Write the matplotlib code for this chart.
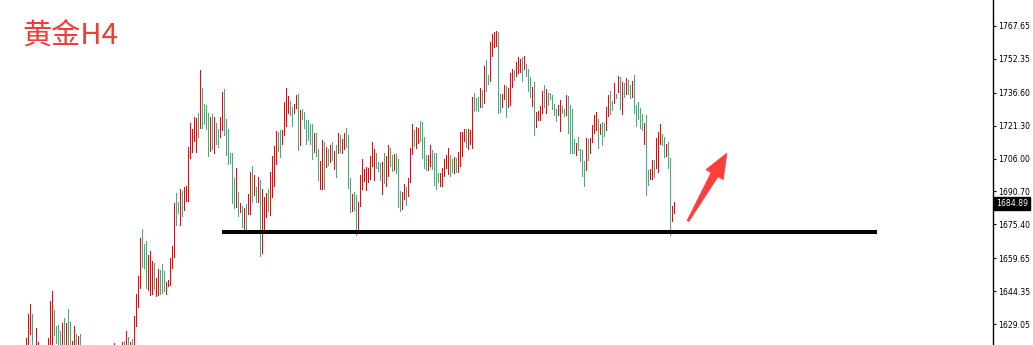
import matplotlib
matplotlib.use('Agg')
import matplotlib.pyplot as plt
from matplotlib.patches import Polygon
import matplotlib.transforms as mtransforms
import numpy as np

# ---------------- data (H4 bars, high / low / direction) ----------------
highs = [
    1622.5, 1633.7, 1638.3, 1633.7, 1618.5, 1627.2, 1620.7, 1618.0, 1617.0, 1618.0,
    1619.0, 1622.5, 1639.7, 1644.4, 1635.6, 1628.1, 1628.6, 1625.8, 1629.5, 1631.8,
    1629.5, 1636.0, 1630.0, 1621.1, 1628.1, 1624.4, 1623.5, 1624.4, 1618.0, 1617.0,
    1615.0, 1613.0, 1614.0, 1612.0, 1610.0, 1611.0, 1612.0, 1610.0, 1611.0, 1613.0,
    1614.0, 1615.0, 1616.0, 1617.0, 1620.2, 1618.0, 1617.5, 1618.5, 1620.7, 1621.1,
    1625.8, 1623.0, 1620.7, 1622.1, 1632.8, 1643.0, 1651.4, 1669.0, 1673.2, 1666.2,
    1667.6, 1661.1, 1663.0, 1658.3, 1657.4, 1650.4, 1654.6, 1654.2, 1656.9, 1653.7,
    1648.6, 1649.5, 1659.7, 1665.3, 1685.3, 1690.0, 1685.8, 1691.8, 1690.9, 1692.7,
    1693.2, 1711.3, 1722.5, 1719.7, 1725.3, 1724.8, 1727.2, 1747.2, 1738.8, 1731.3,
    1730.9, 1727.2, 1725.3, 1726.7, 1725.3, 1722.5, 1719.7, 1725.3, 1736.9, 1738.3,
    1724.4, 1719.7, 1708.6, 1708.6, 1696.9, 1701.6, 1690.4, 1685.3, 1683.9, 1683.0,
    1684.8, 1689.5, 1699.7, 1702.5, 1698.3, 1692.7, 1697.4, 1696.0, 1691.8, 1688.1,
    1690.0, 1691.8, 1699.7, 1707.2, 1711.8, 1718.8, 1718.3, 1719.3, 1719.3, 1732.3,
    1738.8, 1735.1, 1732.7, 1729.9, 1731.3, 1735.5, 1736.0, 1728.6, 1729.0, 1727.6,
    1723.9, 1723.9, 1722.0, 1722.0, 1717.9, 1717.9, 1710.4, 1704.8, 1714.6, 1713.7,
    1711.3, 1710.4, 1712.3, 1713.7, 1709.5, 1712.3, 1717.9, 1716.9, 1715.1, 1717.9,
    1720.2, 1716.9, 1696.9, 1689.5, 1690.4, 1689.0, 1685.8, 1698.3, 1705.8, 1701.1,
    1702.0, 1701.6, 1707.2, 1713.7, 1710.4, 1708.6, 1704.4, 1703.9, 1704.4, 1708.6,
    1707.2, 1712.3, 1710.9, 1707.6, 1708.1, 1708.1, 1705.8, 1690.9, 1690.4, 1694.1,
    1692.7, 1696.9, 1710.9, 1722.0, 1719.3, 1720.6, 1720.2, 1723.4, 1723.0, 1716.0,
    1707.6, 1707.6, 1712.3, 1710.0, 1708.6, 1708.6, 1699.3, 1699.3, 1701.6, 1705.8,
    1707.6, 1710.9, 1707.6, 1705.8, 1706.7, 1706.2, 1709.0, 1718.3, 1718.3, 1719.7,
    1719.7, 1719.7, 1719.3, 1734.6, 1736.5, 1734.1, 1734.6, 1738.8, 1737.9, 1749.0,
    1751.8, 1744.8, 1760.2, 1763.9, 1764.8, 1765.3, 1764.8, 1736.0, 1736.0, 1740.2,
    1739.7, 1738.8, 1745.8, 1747.6, 1747.2, 1750.9, 1753.2, 1752.3, 1753.2, 1753.7,
    1749.9, 1747.6, 1743.9, 1739.2, 1741.6, 1727.6, 1728.1, 1730.4, 1737.4, 1740.2,
    1738.3, 1736.5, 1736.5, 1735.5, 1731.3, 1729.0, 1730.9, 1733.2, 1730.4, 1729.0,
    1735.5, 1735.1, 1730.9, 1729.0, 1715.1, 1713.2, 1716.0, 1710.4, 1710.0, 1704.8,
    1715.5, 1715.1, 1715.5, 1721.6, 1726.2, 1727.6, 1724.4, 1722.0, 1723.0, 1722.5,
    1729.9, 1735.5, 1737.4, 1732.7, 1741.1, 1736.0, 1744.4, 1743.9, 1741.6, 1741.1,
    1743.4, 1742.5, 1740.2, 1742.0, 1744.8, 1730.9, 1732.3, 1729.5, 1726.7, 1722.5,
    1726.2, 1700.7, 1701.1, 1705.3, 1705.3, 1715.5, 1718.3, 1722.0, 1717.4, 1716.0,
    1712.7, 1713.7, 1706.2, 1683.9, 1685.6,
]

lows = [
    1615.0, 1617.0, 1624.4, 1618.0, 1614.0, 1617.0, 1616.0, 1612.0, 1611.0, 1613.0,
    1614.0, 1615.0, 1617.0, 1618.0, 1623.9, 1620.2, 1617.0, 1617.0, 1618.0, 1617.0,
    1617.0, 1618.0, 1616.0, 1615.0, 1616.0, 1617.0, 1616.0, 1617.0, 1610.0, 1608.0,
    1606.0, 1604.0, 1606.0, 1603.0, 1601.0, 1602.0, 1604.0, 1602.0, 1603.0, 1605.0,
    1607.0, 1608.0, 1609.0, 1610.0, 1612.0, 1610.0, 1610.0, 1611.0, 1613.0, 1614.0,
    1615.0, 1616.0, 1615.0, 1616.0, 1618.5, 1628.1, 1636.9, 1645.8, 1655.5, 1655.1,
    1645.8, 1644.9, 1642.5, 1643.0, 1645.3, 1642.1, 1642.5, 1643.0, 1643.5, 1644.4,
    1643.0, 1646.7, 1647.2, 1655.1, 1660.2, 1675.1, 1680.7, 1675.1, 1679.3, 1682.1,
    1686.2, 1686.2, 1706.2, 1709.0, 1714.1, 1709.0, 1716.0, 1720.2, 1720.2, 1722.0,
    1719.7, 1707.2, 1709.5, 1710.4, 1708.6, 1712.7, 1711.3, 1716.0, 1719.3, 1716.9,
    1707.6, 1703.4, 1703.9, 1685.3, 1683.0, 1683.4, 1679.3, 1681.1, 1674.1, 1672.3,
    1672.3, 1680.2, 1680.2, 1685.8, 1689.0, 1685.8, 1685.8, 1660.7, 1662.1, 1672.8,
    1678.8, 1681.6, 1679.7, 1688.1, 1693.2, 1703.4, 1709.5, 1706.7, 1712.7, 1716.9,
    1721.1, 1727.2, 1726.2, 1721.1, 1727.2, 1729.5, 1710.0, 1712.3, 1724.4, 1720.2,
    1712.7, 1714.6, 1712.7, 1705.8, 1709.0, 1707.2, 1696.0, 1691.8, 1691.8, 1691.8,
    1702.0, 1703.0, 1704.4, 1705.3, 1701.1, 1697.4, 1708.6, 1709.0, 1708.6, 1710.4,
    1711.3, 1692.3, 1681.1, 1681.6, 1682.1, 1670.4, 1672.8, 1683.9, 1691.8, 1695.5,
    1691.4, 1695.1, 1696.5, 1702.5, 1696.0, 1701.6, 1700.2, 1696.0, 1689.5, 1694.6,
    1693.2, 1697.9, 1702.5, 1700.2, 1700.7, 1699.3, 1683.4, 1681.6, 1682.5, 1687.2,
    1684.4, 1688.6, 1695.1, 1708.1, 1711.8, 1710.9, 1713.2, 1714.1, 1706.2, 1701.6,
    1700.7, 1700.7, 1702.5, 1701.1, 1693.7, 1691.8, 1695.1, 1693.2, 1693.2, 1697.9,
    1701.6, 1698.8, 1697.9, 1699.7, 1699.3, 1699.7, 1699.7, 1702.5, 1707.2, 1714.1,
    1711.3, 1710.4, 1712.7, 1710.9, 1728.1, 1728.6, 1728.1, 1729.9, 1729.9, 1731.8,
    1737.4, 1740.6, 1742.0, 1753.7, 1757.8, 1758.3, 1727.2, 1727.6, 1729.9, 1733.7,
    1725.3, 1729.9, 1730.9, 1739.2, 1742.5, 1744.4, 1745.8, 1746.2, 1742.0, 1747.6,
    1744.4, 1737.4, 1734.6, 1730.4, 1716.9, 1720.6, 1723.9, 1723.9, 1727.2, 1729.9,
    1727.2, 1730.9, 1733.7, 1729.0, 1726.2, 1723.4, 1726.2, 1718.8, 1727.2, 1725.8,
    1726.2, 1717.9, 1708.6, 1708.6, 1708.6, 1707.6, 1710.0, 1704.8, 1697.9, 1693.2,
    1700.7, 1705.3, 1708.6, 1713.7, 1717.9, 1719.3, 1710.9, 1717.4, 1712.3, 1716.5,
    1719.3, 1725.8, 1726.7, 1728.6, 1731.8, 1734.1, 1736.9, 1729.0, 1726.7, 1734.6,
    1736.0, 1736.0, 1734.1, 1734.6, 1727.2, 1721.1, 1724.4, 1720.2, 1719.3, 1712.7,
    1689.0, 1693.7, 1696.5, 1696.5, 1697.4, 1701.6, 1699.7, 1712.7, 1712.3, 1706.7,
    1707.2, 1701.6, 1670.4, 1676.9, 1680.7,
]

# R = bullish (red), G = bearish (green)
directions = (
    "RRRGGRRGGR" "RRRRGGGGRG" "RGGRRGRGGG" "GRRGGRRGRR" "RGRRRGRRRG"
    "RGRGRRRRGG" "GRRRGRRGGG" "RRRRRGGRGR" "RRRRRRGRGG" "GGRGRGGRRG"
    "GGGGGRGRGR" "GRRGRGRGRR" "RGRRRRGGRR" "RRGGRRGRGG" "GGGGRGGRRG"
    "RGRGRGRGRR" "GGGRGGRRRR" "RRRRRGGGRG" "RRGGRGGGRR" "GRRRGRRGGG"
    "GRRGGGGRRR" "RRGGRGRRRR" "GRRRGGGRGR" "GGRRRRGGRR" "GRRRGRRRGR"
    "GGGRGRRRRG" "RGGGGGRRGG" "RGGGGRGGGG" "RGRRRRGRGG" "RRGGRGRGRG"
    "RGGRGGGGGR" "GGRRGRRRGG" "RGGRR"
)

tick_values = [1767.65, 1752.35, 1736.60, 1721.30, 1706.00,
               1690.70, 1675.40, 1659.65, 1644.35, 1629.05]
tick_labels = ["1767.65", "1752.35", "1736.60", "1721.30", "1706.00",
               "1690.70", "1675.40", "1659.65", "1644.35", "1629.05"]

last_price = 1684.89
support_price = 1671.8
support_start_bar = 98
support_end_bar = 425.5

title = "黄金H4"

# ---------------- figure ----------------
W, H = 1033, 345
fig = plt.figure(figsize=(W / 100, H / 100), dpi=100)
fig.patch.set_facecolor('white')
ax = fig.add_axes([0, 0, 993 / W, 1])
ax.set_facecolor('white')

x = np.arange(len(highs))
RED = '#FF0000'
GREEN = '#3CB371'
colors = [RED if d == 'R' else GREEN for d in directions]
ax.vlines(x, lows, highs, colors=colors, linewidth=0.55, antialiased=False)

ax.set_xlim(-13, 483.5)
ax.set_ylim(1619.3, 1779.7)

# support line
ax.plot([support_start_bar, support_end_bar], [support_price, support_price],
        color='black', lw=2.9, solid_capstyle='butt')

# axes styling (MT4-like right price scale)
for s in ['top', 'left', 'bottom']:
    ax.spines[s].set_visible(False)
ax.spines['right'].set_color('black')
ax.spines['right'].set_linewidth(1.0)
ax.set_xticks([])
ax.yaxis.tick_right()
ax.set_yticks(tick_values)
ax.set_yticklabels(tick_labels)
ax.tick_params(axis='y', direction='out', length=2.5, width=0.8, pad=1.5,
               labelsize=5.6, colors='black')

# current price box
trans = mtransforms.blended_transform_factory(ax.transAxes, ax.transData)
ax.text(1.003, last_price, f"{last_price:.2f}", transform=trans,
        color='white', fontsize=5.6, va='center', ha='left',
        bbox=dict(boxstyle='square,pad=0.25', fc='black', ec='black'),
        clip_on=False, zorder=5)

# title
fig.text(22 / W, 1 - 36 / H, title, fontsize=21, color='#F03C3C',
         family=['Noto Sans CJK SC', 'DejaVu Sans'], va='center', ha='left')

# red arrow (annotation)
tail = np.array([688.0, 221.0])
tip = np.array([727.0, 153.0])
d = tip - tail
L = np.hypot(*d)
u = d / L
n = np.array([-u[1], u[0]])
head_len, head_hw, shaft_hw, tail_hw = 25.0, 10.0, 4.0, 1.0
base = tip - head_len * u
pts_px = [tail + tail_hw * n, base + shaft_hw * n, base + head_hw * n, tip,
          base - head_hw * n, base - shaft_hw * n, tail - tail_hw * n]
pts = [(p[0] / W, 1 - p[1] / H) for p in pts_px]
fig.patches.append(Polygon(pts, closed=True, transform=fig.transFigure,
                           fc='#FF3D3D', ec='#FF3D3D', lw=0.5))

fig.savefig('out.png', dpi=100)
